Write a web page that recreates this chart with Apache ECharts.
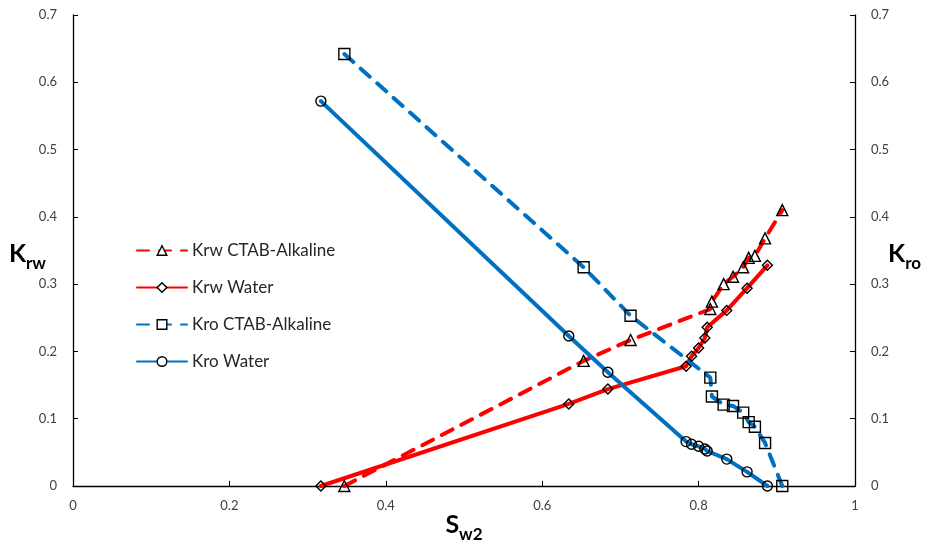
<!DOCTYPE html>
<html>
<head>
<meta charset="utf-8">
<script src="https://cdn.jsdelivr.net/npm/echarts@6/dist/echarts.min.js"></script>
<style>
  html, body { margin: 0; padding: 0; background: #fff; }
  #chart { width: 934px; height: 551px; }
</style>
</head>
<body>
<div id="chart"></div>
<script>
// Water saturation (Sw2) and relative permeabilities
const swCTAB   = [0.347, 0.653, 0.713, 0.815, 0.817, 0.832, 0.844, 0.857, 0.864, 0.872, 0.885, 0.907];
const krwCTAB  = [0, 0.186, 0.217, 0.263, 0.274, 0.300, 0.311, 0.325, 0.339, 0.342, 0.368, 0.410];
const kroCTAB  = [0.642, 0.325, 0.253, 0.161, 0.133, 0.121, 0.119, 0.109, 0.095, 0.088, 0.064, 0];
const swWater  = [0.317, 0.634, 0.684, 0.784, 0.791, 0.800, 0.808, 0.811, 0.836, 0.862, 0.888];
const krwWater = [0, 0.122, 0.144, 0.178, 0.193, 0.205, 0.220, 0.236, 0.261, 0.294, 0.328];
const kroWater = [0.572, 0.223, 0.169, 0.066, 0.062, 0.059, 0.055, 0.052, 0.040, 0.021, 0];

const seriesNames = ['Krw CTAB-Alkaline', 'Krw Water', 'Kro CTAB-Alkaline', 'Kro Water'];
const xTicks = [0, 0.2, 0.4, 0.6, 0.8, 1];

const RED = '#FF0000';
const BLUE = '#0070C0';
const FONT = 'Lato, "Open Sans", sans-serif';

function pairs(xs, ys) {
  return xs.map((x, i) => [x, ys[i]]);
}

function makeSeries(name, xs, ys, color, dashed, symbol, yAxisIndex) {
  return {
    name: name,
    type: 'line',
    yAxisIndex: yAxisIndex,
    data: pairs(xs, ys),
    symbol: symbol,
    symbolSize: symbol === 'triangle' ? 11 : (symbol === 'rect' ? 11 : 10),
    showAllSymbol: true,
    lineStyle: {
      color: color,
      width: 4,
      type: dashed ? [12, 10] : 'solid',
      cap: 'round'
    },
    itemStyle: {
      color: 'rgba(255,255,255,0)',
      borderColor: '#000',
      borderWidth: 1.4
    },
    emphasis: { disabled: true },
    animation: false
  };
}

const tickLabel = { color: '#404040', fontSize: 13, fontFamily: FONT };

const nameRich = {
  a: { fontSize: 25, fontWeight: 'bold', color: '#000', fontFamily: FONT, verticalAlign: 'bottom', padding: [0, 0, 6, 0] },
  b: { fontSize: 17, fontWeight: 'bold', color: '#000', fontFamily: FONT, verticalAlign: 'bottom' }
};

const chart = echarts.init(document.getElementById('chart'), null, { renderer: 'canvas' });

chart.setOption({
  backgroundColor: '#fff',
  animation: false,
  grid: { left: 73, right: 79, top: 15, bottom: 65, containLabel: false, outerBoundsMode: 'none' },
  legend: {
    orient: 'vertical',
    left: 131,
    top: 237,
    itemWidth: 50,
    itemHeight: 12,
    itemGap: 20,
    data: seriesNames,
    itemStyle: { color: '#fff', borderColor: '#000', borderWidth: 1.4 },
    textStyle: { color: '#262626', fontSize: 17, fontFamily: FONT }
  },
  xAxis: {
    type: 'value',
    min: xTicks[0],
    max: xTicks[xTicks.length - 1],
    interval: 0.2,
    name: '{a|S}{b|w2}',
    nameLocation: 'middle',
    nameGap: 26,
    nameMoveOverlap: false,
    nameTextStyle: { verticalAlign: 'top', rich: nameRich },
    axisLine: { lineStyle: { color: '#000', width: 1.3 } },
    axisTick: { inside: true, length: 5, lineStyle: { color: '#000' } },
    axisLabel: Object.assign({ margin: 13 }, tickLabel),
    splitLine: { show: false }
  },
  yAxis: [
    {
      type: 'value',
      min: 0, max: 0.7, interval: 0.1,
      name: '{a|K}{b|rw}',
      nameLocation: 'middle',
      nameRotate: 0,
      nameGap: 27,
      nameMoveOverlap: false,
      nameTextStyle: { align: 'right', padding: [12, 0, 0, 0], rich: nameRich },
      axisLine: { show: true, lineStyle: { color: '#000', width: 1.3 } },
      axisTick: { show: true, inside: true, length: 5, lineStyle: { color: '#000' } },
      axisLabel: Object.assign({ margin: 16 }, tickLabel),
      splitLine: { show: false }
    },
    {
      type: 'value',
      position: 'right',
      min: 0, max: 0.7, interval: 0.1,
      name: '{a|K}{b|ro}',
      nameLocation: 'middle',
      nameRotate: 0,
      nameGap: 33,
      nameMoveOverlap: false,
      nameTextStyle: { align: 'left', padding: [12, 0, 0, 0], rich: nameRich },
      axisLine: { show: true, lineStyle: { color: '#000', width: 1.3 } },
      axisTick: { show: true, inside: true, length: 5, lineStyle: { color: '#000' } },
      axisLabel: Object.assign({ margin: 16 }, tickLabel),
      splitLine: { show: false }
    }
  ],
  series: [
    makeSeries(seriesNames[0], swCTAB, krwCTAB, RED, true, 'triangle', 0),
    makeSeries(seriesNames[1], swWater, krwWater, RED, false, 'diamond', 0),
    makeSeries(seriesNames[2], swCTAB, kroCTAB, BLUE, true, 'rect', 1),
    makeSeries(seriesNames[3], swWater, kroWater, BLUE, false, 'circle', 1)
  ]
});
</script>
</body>
</html>
